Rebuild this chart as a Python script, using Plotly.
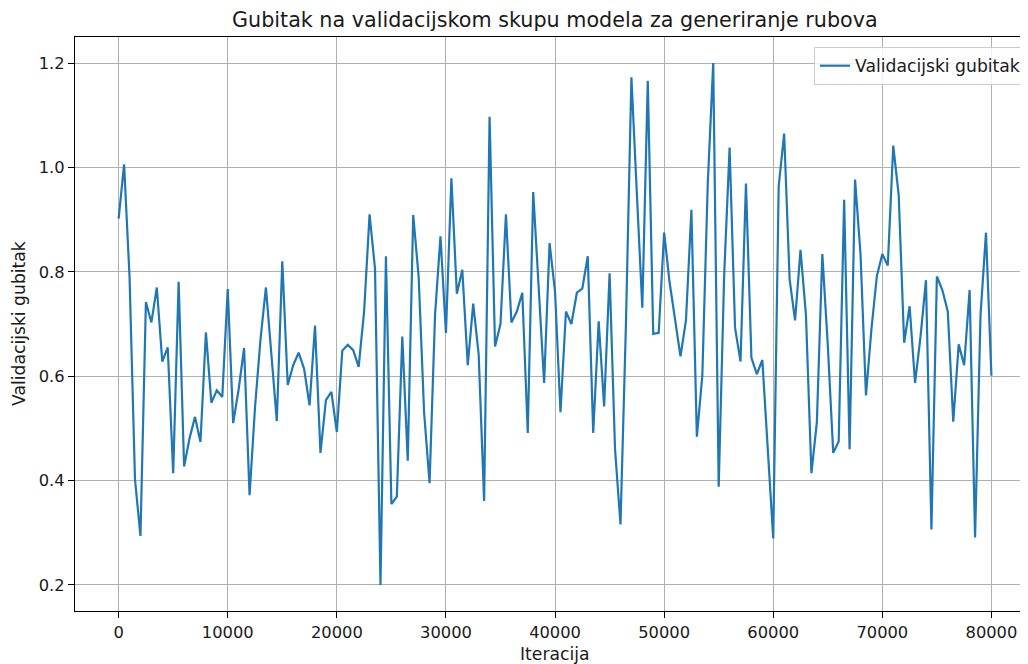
import plotly.graph_objects as go

# Iterations (validation every 500 iterations)
iterations = list(range(0, 80500, 500))

# Validation loss
val_loss = [
    0.902, 1.006, 0.790, 0.402, 0.294, 0.742, 0.703, 0.770, 0.628, 0.655,
    0.414, 0.781, 0.427, 0.481, 0.522, 0.474, 0.684, 0.549, 0.573, 0.560,
    0.767, 0.510, 0.575, 0.654, 0.372, 0.540, 0.670, 0.770, 0.642, 0.514,
    0.820, 0.583, 0.621, 0.645, 0.614, 0.544, 0.697, 0.453, 0.554, 0.570,
    0.493, 0.649, 0.660, 0.650, 0.618, 0.724, 0.910, 0.806, 0.200, 0.830,
    0.355, 0.369, 0.676, 0.438, 0.909, 0.790, 0.530, 0.395, 0.717, 0.868,
    0.683, 0.979, 0.758, 0.804, 0.621, 0.739, 0.642, 0.361, 1.097, 0.657,
    0.700, 0.910, 0.703, 0.724, 0.760, 0.491, 0.953, 0.772, 0.587, 0.855,
    0.762, 0.531, 0.724, 0.700, 0.760, 0.768, 0.830, 0.491, 0.705, 0.542,
    0.797, 0.460, 0.316, 0.700, 1.173, 0.950, 0.731, 1.166, 0.681, 0.683,
    0.875, 0.780, 0.710, 0.638, 0.707, 0.919, 0.484, 0.601, 0.970, 1.200,
    0.388, 0.792, 1.038, 0.693, 0.628, 0.969, 0.635, 0.604, 0.631, 0.460,
    0.289, 0.964, 1.065, 0.786, 0.707, 0.842, 0.717, 0.414, 0.512, 0.834,
    0.660, 0.453, 0.475, 0.938, 0.460, 0.977, 0.834, 0.563, 0.690, 0.792,
    0.834, 0.812, 1.042, 0.947, 0.664, 0.734, 0.587, 0.676, 0.784, 0.306,
    0.791, 0.765, 0.724, 0.513, 0.661, 0.621, 0.765, 0.291, 0.717, 0.875,
    0.601,
]

x_ticks = [0, 10000, 20000, 30000, 40000, 50000, 60000, 70000, 80000]
x_tick_labels = ["0", "10000", "20000", "30000", "40000", "50000", "60000", "70000", "80000"]
y_ticks = [0.2, 0.4, 0.6, 0.8, 1.0, 1.2]
y_tick_labels = ["0.2", "0.4", "0.6", "0.8", "1.0", "1.2"]

title_text = "Gubitak na validacijskom skupu modela za generiranje rubova"
x_label = "Iteracija"
y_label = "Validacijski gubitak"
series_name = "Validacijski gubitak"

FONT = "DejaVu Sans"
TXT = "#1a1a1a"

# page body has an 8px margin; figure sized to compensate
OFF = 8
W, H = 1020, 656
# target plot box in page pixels
PL, PR, PT, PB = 75, 1027, 37, 611
L = PL - OFF
T = PT - OFF
R = W - (PR - OFF)
B = H - (PB - OFF)
pw = W - L - R
ph = H - T - B


def px_x(page_x):
    return (page_x - PL) / pw


def px_y(page_y):
    return (PB - page_y) / ph


fig = go.Figure()
fig.add_trace(go.Scatter(
    x=iterations, y=val_loss, mode="lines", name=series_name,
    line=dict(color="#1f77b4", width=2.2),
))

fig.update_layout(
    width=W, height=H,
    margin=dict(l=L, r=R, t=T, b=B, pad=0),
    paper_bgcolor="white", plot_bgcolor="white",
    font=dict(family=FONT, size=16.3, color=TXT),
    showlegend=True,
    legend=dict(
        x=px_x(1026), xanchor="right",
        y=px_y(47), yanchor="top",
        bgcolor="rgba(255,255,255,0.8)", bordercolor="#cccccc", borderwidth=1,
        font=dict(family=FONT, size=17.2, color=TXT),
    ),
)

fig.update_xaxes(
    range=[-4000, 83260],
    tickvals=x_ticks, ticktext=x_tick_labels,
    showgrid=True, gridcolor="#b0b0b0", gridwidth=1.1,
    zeroline=False,
    showline=True, linecolor="black", linewidth=1.3, mirror=True,
    ticks="outside", ticklen=6, tickwidth=1.3, tickcolor="black",
    tickfont=dict(family=FONT, size=16.3, color=TXT),
)
fig.update_yaxes(
    range=[0.15, 1.25],
    tickvals=y_ticks, ticktext=y_tick_labels,
    showgrid=True, gridcolor="#b0b0b0", gridwidth=1.1,
    zeroline=False,
    showline=True, linecolor="black", linewidth=1.3, mirror=False,
    ticks="outside", ticklen=6, tickwidth=1.3, tickcolor="black",
    tickfont=dict(family=FONT, size=16.3, color=TXT),
)

center_x = px_x(555)
fig.add_annotation(
    text=title_text, xref="paper", yref="paper",
    x=center_x, y=px_y(20), xanchor="center", yanchor="middle",
    showarrow=False, font=dict(family=FONT, size=20.7, color=TXT),
)
fig.add_annotation(
    text=x_label, xref="paper", yref="paper",
    x=center_x, y=px_y(654), xanchor="center", yanchor="middle",
    showarrow=False, font=dict(family=FONT, size=17.2, color=TXT),
)
fig.add_annotation(
    text=y_label, xref="paper", yref="paper",
    x=px_x(19), y=0.5, xanchor="center", yanchor="middle",
    textangle=-90, showarrow=False,
    font=dict(family=FONT, size=17.2, color=TXT),
)

fig.write_html("out.html")
